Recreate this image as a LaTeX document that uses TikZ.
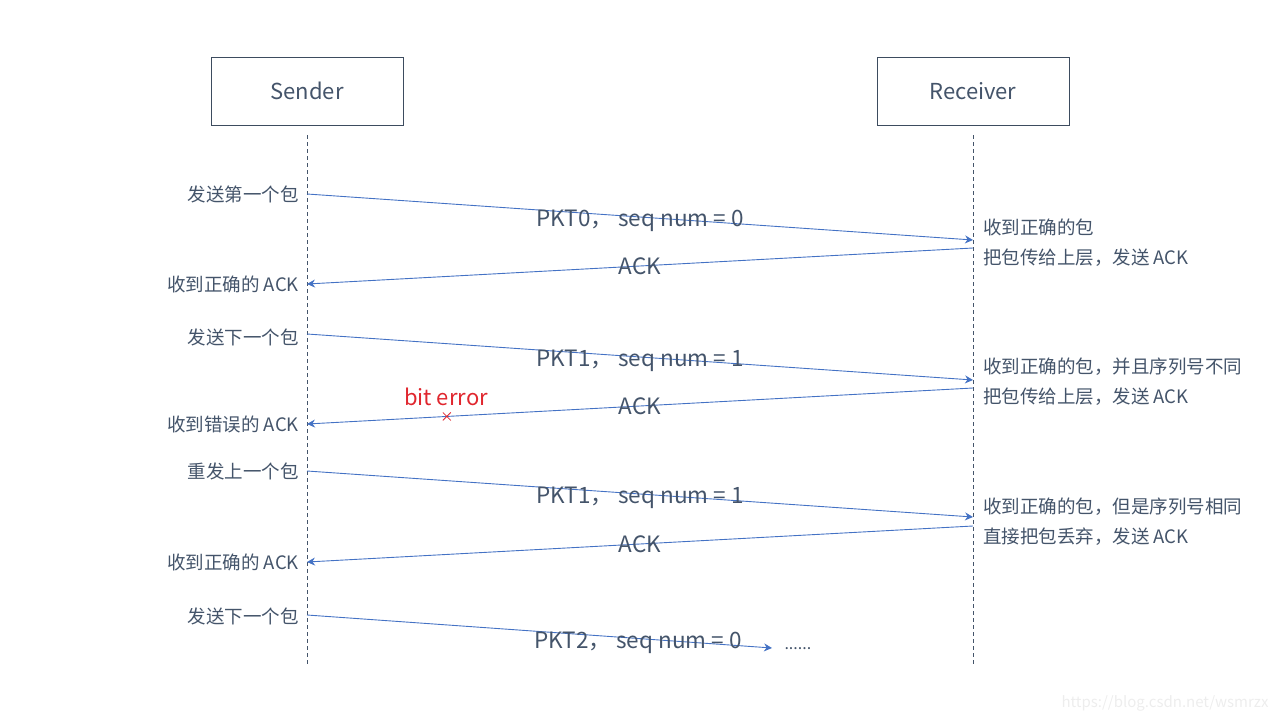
\documentclass[tikz,border=0pt]{standalone}
\usepackage{fontspec}
\setmainfont{Noto Sans CJK SC}
\usepackage{xcolor}
\usepackage{tikz}
\usetikzlibrary{positioning, arrows.meta}
\definecolor{slate}{HTML}{44546A}
\definecolor{msgblue}{HTML}{4472C4}
\definecolor{errred}{HTML}{E0262E}
\definecolor{marklight}{HTML}{EDEDED}

\begin{document}
\begin{tikzpicture}[x=1pt, y=-1pt,
    actor/.style={draw=slate!90!black, line width=0.8pt, minimum width=192pt,
                  minimum height=68pt, text=slate, font=\fontsize{22}{26}\selectfont},
    life/.style={draw=slate, line width=0.8pt, dash pattern=on 4pt off 3pt},
    msg/.style={draw=msgblue, line width=0.9pt, -{Stealth[length=8pt, width=8pt]}},
    msglbl/.style={text=slate, inner sep=0pt, font=\fontsize{22.5}{26}\selectfont},
    pktlbl/.style={msglbl, yshift=-4pt},
    note/.style={text=slate, inner sep=0pt, align=left, font=\fontsize{18.5}{30}\selectfont}]

    \useasboundingbox (0,0) rectangle (1280,720);

    % the two parties
    \node[actor] (sender) at (307,91) {Sender};
    \node[actor] (receiver) at (973,91) {Receiver};
    \draw[life] ([yshift=-10pt]sender.south) -- ++(0,530);
    \draw[life] ([yshift=-10pt]receiver.south) -- ++(0,530);

    % message ends on the lifelines
    \coordinate (s1) at (307,194);  \coordinate (r1) at (973,240);
    \coordinate (r2) at (973,248);  \coordinate (s2) at (307,284);
    \coordinate (s3) at (307,334);  \coordinate (r3) at (973,380);
    \coordinate (r4) at (973,388);  \coordinate (s4) at (307,424);
    \coordinate (s5) at (307,471);  \coordinate (r5) at (973,517);
    \coordinate (r6) at (973,526);  \coordinate (s6) at (307,562);
    \coordinate (s7) at (307,615);  \coordinate (e7) at (772,648);

    % messages
    \draw[msg] (s1) -- (r1) node[midway, pktlbl] {PKT0，\ seq num = 0};
    \draw[msg] (r2) -- (s2) node[midway, msglbl] {ACK};
    \draw[msg] (s3) -- (r3) node[midway, pktlbl] {PKT1，\ seq num = 1};
    \draw[msg] (r4) -- (s4) node[midway, msglbl] {ACK}
        coordinate[pos=0.79] (hit);
    \draw[msg] (s5) -- (r5) node[midway, pktlbl] {PKT1，\ seq num = 1};
    \draw[msg] (r6) -- (s6) node[midway, msglbl] {ACK};
    \draw[msg] (s7) -- (e7) node[pos=0.712, pktlbl] {PKT2，\ seq num = 0};
    \node[text=slate, anchor=base west, font=\fontsize{16}{18}\selectfont] (more)
        at ([xshift=9pt, yshift=-1pt]e7) {......};

    % the error on the second ACK
    \draw[errred, line width=0.8pt] ([shift={(-4,-4)}]hit) -- ([shift={(4,4)}]hit)
        ([shift={(-4,4)}]hit) -- ([shift={(4,-4)}]hit);
    \node[text=errred, inner sep=0pt, font=\fontsize{22}{26}\selectfont] (biterr)
        at (446,397) {bit error};

    % sender side
    \node[note, left=8pt of s1] (n1) {发送第一个包};
    \node[note, left=8pt of s2] (n2) {收到正确的 ACK};
    \node[note, left=8pt of s3, yshift=-3pt] (n3) {发送下一个包};
    \node[note, left=8pt of s4] (n4) {收到错误的 ACK};
    \node[note, left=8pt of s5] (n5) {重发上一个包};
    \node[note, left=8pt of s6] (n6) {收到正确的 ACK};
    \node[note, left=8pt of s7, yshift=-1pt] (n7) {发送下一个包};

    % receiver side
    \node[note, anchor=west] (m1) at (983,243) {收到正确的包\\把包传给上层，发送 ACK};
    \node[note, anchor=west] (m2) at (983,382) {收到正确的包，并且序列号不同\\把包传给上层，发送 ACK};
    \node[note, anchor=west] (m3) at (983,522) {收到正确的包，但是序列号相同\\直接把包丢弃，发送 ACK};

    \node[text=marklight, anchor=east, font=\fontsize{15}{18}\selectfont] (mark)
        at (1272,703) {https://blog.csdn.net/wsmrzx};
\end{tikzpicture}
\end{document}
